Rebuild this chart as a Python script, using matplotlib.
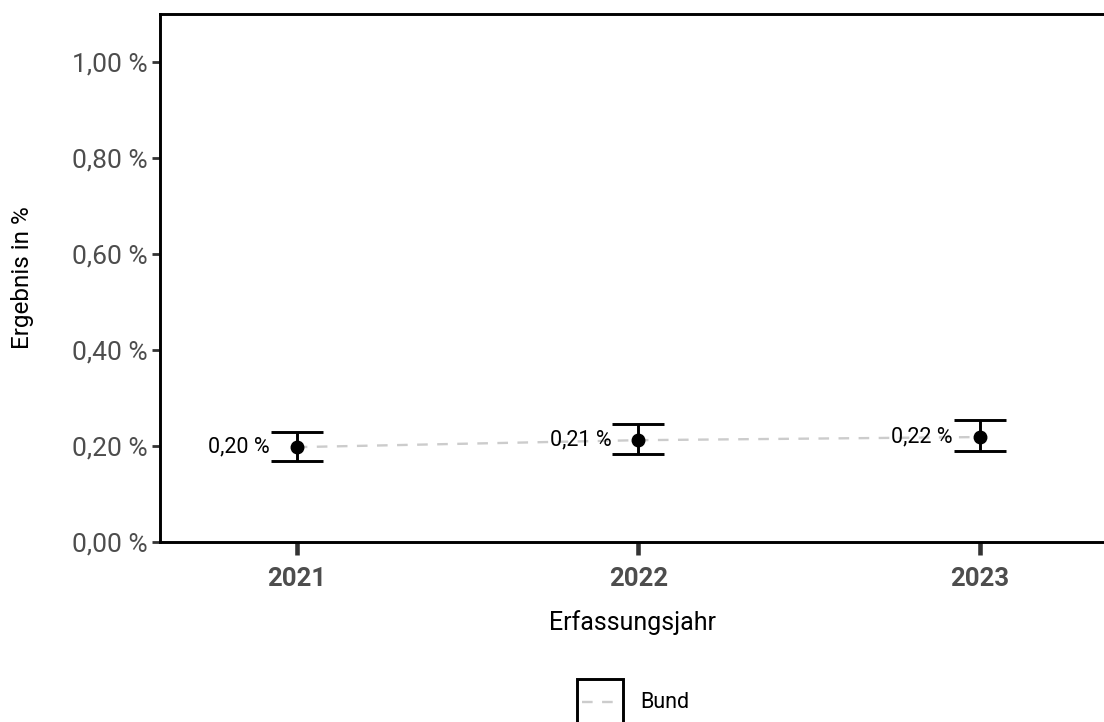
import matplotlib
matplotlib.use('Agg')
import matplotlib.pyplot as plt
from matplotlib.patches import Rectangle
from matplotlib.lines import Line2D
from matplotlib.ticker import FuncFormatter

years = [2021, 2022, 2023]
values = [0.198, 0.2125, 0.219]
lower = [0.169, 0.183, 0.190]
upper = [0.229, 0.246, 0.254]
labels = ['0,20 %', '0,21 %', '0,22 %']
yticks = [0.0, 0.2, 0.4, 0.6, 0.8, 1.0]

plt.rcParams['font.family'] = ['Roboto', 'DejaVu Sans']

fig = plt.figure(figsize=(11.04, 7.22), dpi=100)
ax = fig.add_axes([0.145, 0.249, 0.855, 0.7316])

# dashed trend line
ax.plot(years, values, color='#cccccc', linestyle=(0, (4.5, 4)), linewidth=1.7, zorder=1)

# error bars + points
err_lo = [v - l for v, l in zip(values, lower)]
err_hi = [u - v for v, u in zip(values, upper)]
ax.errorbar(years, values, yerr=[err_lo, err_hi], fmt='o', color='black',
            markersize=9, elinewidth=2.1, capsize=18.5, capthick=2.1, zorder=3)

for x, y, lab in zip(years, values, labels):
    ax.annotate(lab, (x, y), xytext=(-27, 0), textcoords='offset pixels',
                ha='right', va='center', fontsize=15.5, color='black', zorder=2)

ax.set_xlim(2020.6, 2023.363)
ax.set_ylim(0, 1.1)
ax.set_xticks(years)
ax.set_xticklabels([str(y) for y in years], fontweight='bold', fontsize=18.5, color='#4d4d4d')
ax.set_yticks(yticks)
ax.yaxis.set_major_formatter(FuncFormatter(lambda v, p: f'{v:.2f} %'.replace('.', ',')))
ax.tick_params(axis='y', labelsize=19, labelcolor='#4d4d4d', length=6, width=2, color='#333333', pad=3)
ax.tick_params(axis='x', length=9.5, width=3.3, color='#333333', pad=8)

for s in ['top', 'left', 'bottom']:
    ax.spines[s].set_linewidth(2.1)
    ax.spines[s].set_color('black')
ax.spines['right'].set_visible(False)

ax.set_xlabel('Erfassungsjahr', fontsize=18, labelpad=14)
ax.set_ylabel('Ergebnis in %', fontsize=17.5, labelpad=27)

# legend
fig.patches.append(Rectangle((0.5226, -0.03), 0.0417, 0.0896, transform=fig.transFigure,
                             fill=False, edgecolor='black', linewidth=2.1))
fig.lines.append(Line2D([0.5272, 0.5598], [0.0277, 0.0277], transform=fig.transFigure,
                        color='#cccccc', linestyle=(0, (4.5, 4)), linewidth=1.7))
fig.text(0.5797, 0.0277, 'Bund', fontsize=15.5, va='center', ha='left')

fig.savefig('out.png', dpi=100)
